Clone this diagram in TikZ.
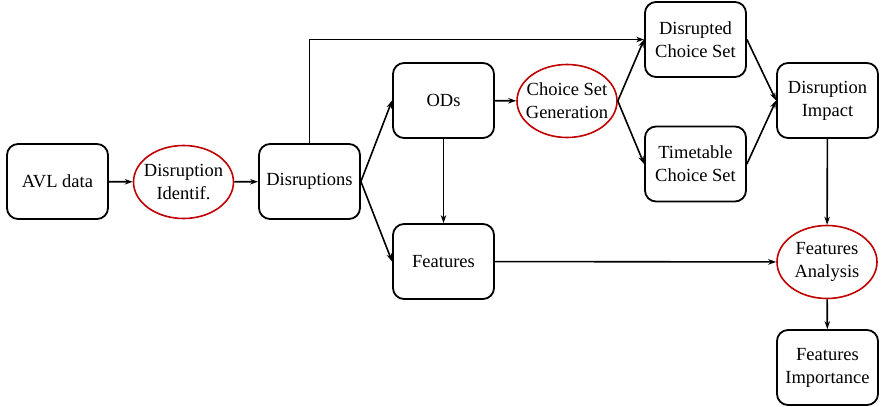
\documentclass[tikz,border=0pt]{standalone}
\usepackage{fontspec}
\setmainfont{Liberation Serif}
\usetikzlibrary{arrows.meta,shapes.geometric}
\definecolor{ellred}{HTML}{C00000}
\begin{document}
\begin{tikzpicture}[x=1pt,y=-1pt,
  box/.style={draw=black,line width=1.8pt,rounded corners=11pt,minimum width=101pt,minimum height=75pt,align=center,inner sep=2pt,font=\fontsize{18.5}{23}\selectfont},
  proc/.style={ellipse,draw=ellred,line width=1.6pt,minimum width=100pt,minimum height=73pt,inner xsep=-14pt,inner ysep=-4pt,align=center,font=\fontsize{18.5}{23}\selectfont},
  conn/.style={line width=1.6pt,-{Stealth[length=8pt,width=5.5pt]}}]
\useasboundingbox[fill=white] (0,0) rectangle (881,407);
\node[box] (avl) at (57.5,181.5) {AVL data};
\node[proc] (did) at (183.5,182) {Disruption\\Identif.};
\node[box] (dis) at (309.5,181.5) {Disruptions};
\node[box] (ods) at (443.5,100.5) {ODs};
\node[proc] (csg) at (567,101) {Choice Set\\Generation};
\node[box] (dcs) at (695.5,39.5) {Disrupted\\Choice Set};
\node[box] (tcs) at (695.5,164) {Timetable\\Choice Set};
\node[box] (dim) at (827.5,100.5) {Disruption\\Impact};
\node[box] (fea) at (443.5,261.5) {Features};
\node[proc] (fan) at (827,262) {Features\\Analysis};
\node[box] (fim) at (827.5,367.5) {Features\\Importance};
\draw[conn] (avl) -- (did);
\draw[conn] (did) -- (dis);
\draw[conn] (dis.north) |- (dcs.west);
\draw[conn] (dis.east) -- (ods.west);
\draw[conn] (dis.east) -- (fea.west);
\draw[conn] (ods) -- (csg);
\draw[conn] (ods) -- (fea);
\draw[conn] (csg.east) -- (dcs.west);
\draw[conn] (csg.east) -- (tcs.west);
\draw[conn] (dcs.east) -- (dim.west);
\draw[conn] (tcs.east) -- (dim.west);
\draw[conn] (dim) -- (fan);
\draw[conn] (fea) -- (fan);
\draw[conn] (fan) -- (fim);
\end{tikzpicture}
\end{document}
